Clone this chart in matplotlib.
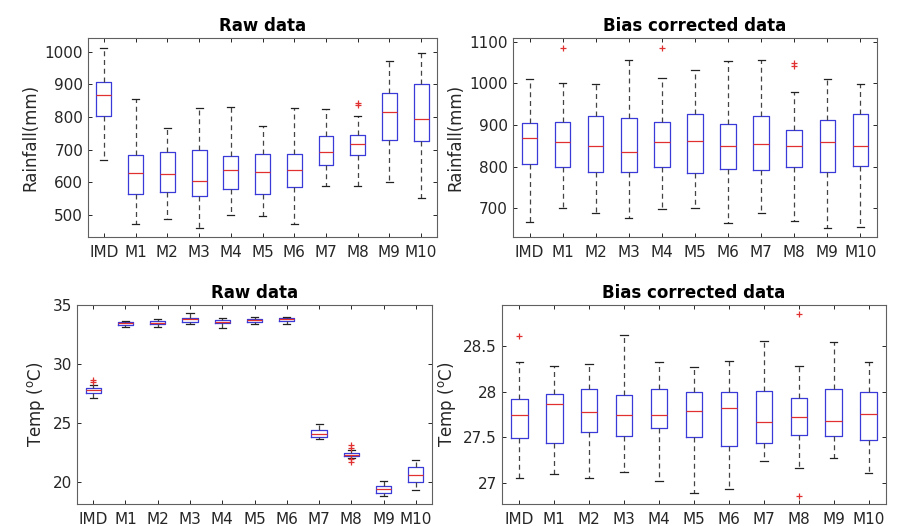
import matplotlib
matplotlib.use("Agg")
import matplotlib.pyplot as plt

labels = ['IMD', 'M1', 'M2', 'M3', 'M4', 'M5', 'M6', 'M7', 'M8', 'M9', 'M10']

# rainfall, raw
rr_lo = [667, 472, 487, 459, 499, 496, 472, 588, 588, 601, 551]
rr_q1 = [804, 563, 570, 558, 580, 564, 584, 653, 682, 729, 726]
rr_med = [867, 628, 624, 603, 637, 631, 637, 694, 717, 815, 794]
rr_q3 = [908, 682, 692, 699, 680, 686, 686, 741, 744, 872, 900]
rr_hi = [1012, 855, 765, 827, 829, 771, 827, 823, 802, 972, 995]
rr_out = [[], [], [], [], [], [], [], [], [844, 837], [], []]

# rainfall, bias corrected
rb_lo = [666, 700, 688, 676, 698, 700, 664, 688, 670, 652, 654]
rb_q1 = [806, 798, 788, 788, 799, 784, 794, 791, 798, 786, 802]
rb_med = [868, 858, 849, 834, 858, 861, 850, 855, 850, 860, 849]
rb_q3 = [906, 908, 922, 918, 908, 927, 902, 922, 889, 911, 926]
rb_hi = [1011, 1002, 998, 1055, 1014, 1031, 1053, 1055, 980, 1010, 998]
rb_out = [[], [1084], [], [], [1086], [], [], [], [1050, 1041], [], []]

# temperature, raw
tr_lo = [27.13, 33.15, 33.15, 33.40, 33.04, 33.35, 33.40, 23.60, 22.02, 18.80, 19.30]
tr_q1 = [27.52, 33.30, 33.35, 33.58, 33.44, 33.58, 33.60, 23.78, 22.15, 19.06, 19.97]
tr_med = [27.75, 33.47, 33.50, 33.78, 33.52, 33.72, 33.78, 24.06, 22.30, 19.35, 20.60]
tr_q3 = [27.98, 33.55, 33.66, 33.92, 33.72, 33.84, 33.86, 24.35, 22.41, 19.60, 21.22]
tr_hi = [28.18, 33.60, 33.78, 34.30, 33.86, 33.95, 34.00, 24.86, 22.72, 20.06, 21.80]
tr_out = [[28.61, 28.44], [], [], [], [], [], [], [], [23.15, 22.87, 21.93, 21.64], [], []]

# temperature, bias corrected
tb_lo = [27.05, 27.10, 27.06, 27.12, 27.02, 26.89, 26.93, 27.24, 27.16, 27.27, 27.11]
tb_q1 = [27.49, 27.44, 27.56, 27.52, 27.60, 27.50, 27.41, 27.44, 27.53, 27.51, 27.47]
tb_med = [27.75, 27.86, 27.78, 27.75, 27.74, 27.79, 27.82, 27.67, 27.72, 27.68, 27.76]
tb_q3 = [27.92, 27.98, 28.03, 27.96, 28.03, 28.00, 28.00, 28.01, 27.93, 28.03, 28.00]
tb_hi = [28.32, 28.28, 28.30, 28.62, 28.32, 28.27, 28.34, 28.55, 28.28, 28.54, 28.32]
tb_out = [[28.61], [], [], [], [], [], [], [], [28.85, 26.86], [], []]


def make_stats(lo, q1, med, q3, hi, out):
    stats = []
    for i in range(len(labels)):
        stats.append(dict(whislo=lo[i], q1=q1[i], med=med[i], q3=q3[i],
                          whishi=hi[i], fliers=out[i], label=labels[i]))
    return stats


def draw(ax, stats, title, ylabel, ylim, yticks, yticklabels=None):
    ax.bxp(stats, widths=0.47, showfliers=True,
           boxprops=dict(color='#3a3ad8', linewidth=0.9),
           medianprops=dict(color='#e03030', linewidth=0.9),
           whiskerprops=dict(color='#444444', linestyle=(0, (4, 3)), linewidth=0.9),
           capprops=dict(color='#222222', linewidth=0.9),
           capwidths=0.22,
           flierprops=dict(marker='+', markeredgecolor='#e03030', markersize=4,
                           markeredgewidth=0.9, linestyle='none'))
    ax.set_xlim(0.5, 11.5)
    ax.set_ylim(*ylim)
    ax.set_yticks(yticks)
    if yticklabels is not None:
        ax.set_yticklabels(yticklabels)
    ax.set_title(title, fontsize=12, fontweight='bold', pad=5)
    ax.set_ylabel(ylabel, fontsize=12, color='#262626')
    ax.tick_params(direction='in', top=True, right=True, length=3,
                   labelsize=11, colors='#262626', width=0.7)
    ax.tick_params(axis='x', pad=6)
    for s in ax.spines.values():
        s.set_color('#606060')
        s.set_linewidth(0.8)


fig = plt.figure(figsize=(9.19, 5.26), dpi=100)
ax1 = fig.add_axes([0.0958, 0.5494, 0.3797, 0.3784])
ax2 = fig.add_axes([0.5582, 0.5494, 0.3961, 0.3784])
ax3 = fig.add_axes([0.0838, 0.0418, 0.3863, 0.3784])
ax4 = fig.add_axes([0.5462, 0.0418, 0.4179, 0.3784])

temp_label = r'Temp ($^{\mathrm{o}}$C)'

draw(ax1, make_stats(rr_lo, rr_q1, rr_med, rr_q3, rr_hi, rr_out),
     'Raw data', 'Rainfall(mm)', (432, 1042), [500, 600, 700, 800, 900, 1000])
draw(ax2, make_stats(rb_lo, rb_q1, rb_med, rb_q3, rb_hi, rb_out),
     'Bias corrected data', 'Rainfall(mm)', (631, 1109), [700, 800, 900, 1000, 1100])
draw(ax3, make_stats(tr_lo, tr_q1, tr_med, tr_q3, tr_hi, tr_out),
     'Raw data', temp_label, (18.1, 35), [20, 25, 30, 35])
draw(ax4, make_stats(tb_lo, tb_q1, tb_med, tb_q3, tb_hi, tb_out),
     'Bias corrected data', temp_label, (26.77, 28.95), [27, 27.5, 28, 28.5],
     ['27', '27.5', '28', '28.5'])

fig.savefig('out.png', dpi=100)
